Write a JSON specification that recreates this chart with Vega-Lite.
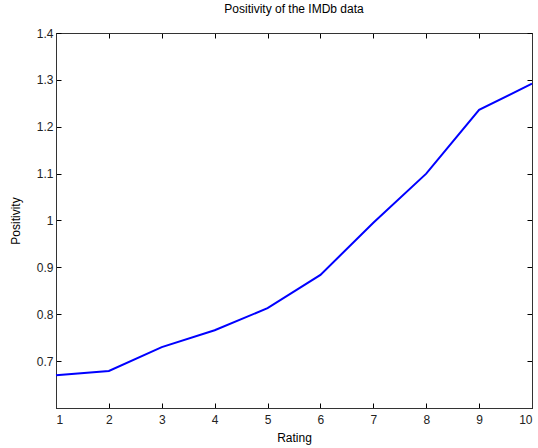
{
  "$schema": "https://vega.github.io/schema/vega-lite/v6.json",
  "width": 476,
  "height": 375,
  "autosize": {"type": "none"},
  "padding": {"left": 56, "top": 33, "right": 6, "bottom": 40},
  "background": "white",
  "title": {"text": "Positivity of the IMDb data", "font": "Liberation Sans", "fontSize": 12, "fontWeight": "normal", "color": "#000000", "offset": 11},
  "config": {
    "view": {"stroke": "#000000", "strokeWidth": 1},
    "axis": {"grid": false, "domainColor": "#333333", "tickColor": "#000000", "labelFont": "Liberation Sans", "labelFontSize": 12, "labelColor": "#222222", "titleFont": "Liberation Sans", "titleFontSize": 12, "titleFontWeight": "normal", "titleColor": "#000000", "tickSize": -5}
  },
  "data": {"values": [
    {"Rating": 1, "Positivity": 0.670},
    {"Rating": 2, "Positivity": 0.679},
    {"Rating": 3, "Positivity": 0.730},
    {"Rating": 4, "Positivity": 0.766},
    {"Rating": 5, "Positivity": 0.813},
    {"Rating": 6, "Positivity": 0.884},
    {"Rating": 7, "Positivity": 0.995},
    {"Rating": 8, "Positivity": 1.100},
    {"Rating": 9, "Positivity": 1.236},
    {"Rating": 10, "Positivity": 1.292}
  ]},
  "layer": [
    {
      "mark": {"type": "line", "color": "#0000ff", "strokeWidth": 2},
      "encoding": {
        "x": {"field": "Rating", "type": "quantitative", "scale": {"domain": [1, 10], "nice": false}, "axis": {"values": [1,2,3,4,5,6,7,8,9,10], "title": "Rating", "labelPadding": 11, "titlePadding": 7}},
        "y": {"field": "Positivity", "type": "quantitative", "scale": {"domain": [0.6, 1.4], "nice": false, "zero": false}, "axis": {"values": [0.7,0.8,0.9,1,1.1,1.2,1.3,1.4], "title": "Positivity", "labelPadding": 8, "titlePadding": 14, "labelExpr": "datum.value == 1 ? '1' : datum.label"}}
      }
    },
    {
      "mark": {"type": "line", "opacity": 0},
      "encoding": {
        "x": {"field": "Rating", "type": "quantitative", "scale": {"domain": [1, 10], "nice": false}, "axis": {"orient": "top", "values": [1,2,3,4,5,6,7,8,9,10], "labels": false, "title": null}},
        "y": {"field": "Positivity", "type": "quantitative", "scale": {"domain": [0.6, 1.4], "nice": false, "zero": false}, "axis": {"orient": "right", "values": [0.7,0.8,0.9,1,1.1,1.2,1.3,1.4], "labels": false, "title": null}}
      }
    }
  ],
  "resolve": {"axis": {"x": "independent", "y": "independent"}}
}
